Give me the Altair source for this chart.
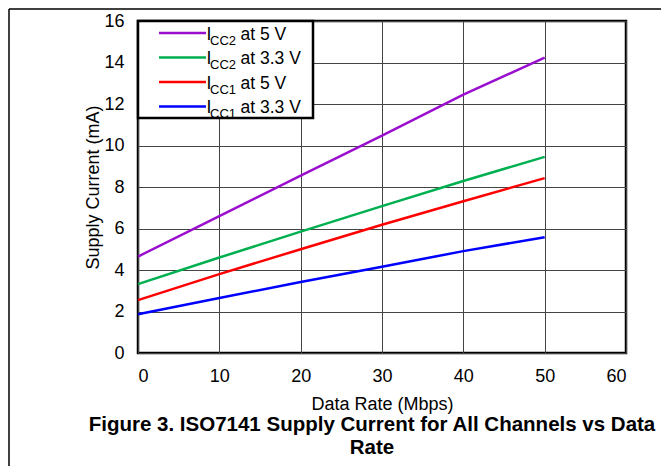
import altair as alt
import pandas as pd

# ---- data ----
data_rate = [0, 10, 20, 30, 40, 50]
icc2_5v = [4.65, 6.6, 8.55, 10.48, 12.45, 14.24]
icc2_33v = [3.32, 4.6, 5.85, 7.08, 8.29, 9.45]
icc1_5v = [2.55, 3.8, 5.0, 6.18, 7.31, 8.43]
icc1_33v = [1.87, 2.65, 3.42, 4.16, 4.91, 5.58]

series_names = ["ICC2 at 5 V", "ICC2 at 3.3 V", "ICC1 at 5 V", "ICC1 at 3.3 V"]
series_vals = [icc2_5v, icc2_33v, icc1_5v, icc1_33v]
series_colors = ["#9A0ECF", "#00B050", "#FF0000", "#0000FF"]
legend_sub = ["CC2", "CC2", "CC1", "CC1"]
legend_rest = ["at 5 V", "at 3.3 V", "at 5 V", "at 3.3 V"]

x_ticks = [0, 10, 20, 30, 40, 50, 60]
y_ticks = [0, 2, 4, 6, 8, 10, 12, 14, 16]

title_lines = ["Figure 3. ISO7141 Supply Current for All Channels vs Data", "Rate"]

rows = []
for name, vals in zip(series_names, series_vals):
    for xv, yv in zip(data_rate, vals):
        rows.append({"series": name, "rate": xv, "current": yv})
df = pd.DataFrame(rows)

FONT = "Liberation Sans"
W, H = 488, 332

lines = alt.Chart(df).mark_line(strokeWidth=2.5).encode(
    x=alt.X("rate:Q", scale=alt.Scale(domain=[0, 60]),
            axis=alt.Axis(values=x_ticks, title="Data Rate (Mbps)", grid=True,
                          ticks=False, domain=False, labelPadding=14,
                          titlePadding=10)),
    y=alt.Y("current:Q", scale=alt.Scale(domain=[0, 16]),
            axis=alt.Axis(values=y_ticks, title="Supply Current (mA)", grid=True,
                          ticks=False, domain=False, labelPadding=14,
                          titlePadding=1)),
    color=alt.Color("series:N", scale=alt.Scale(domain=series_names, range=series_colors),
                    legend=None),
)

layers = [lines]

# legend box
layers.append(alt.Chart(pd.DataFrame({"a": [0]})).mark_rect(
    fill="white", stroke="black", strokeWidth=2.5).encode(
    x=alt.value(0), x2=alt.value(175), y=alt.value(0), y2=alt.value(97)))

row_y = [12, 36.5, 61, 85.5]
for i in range(4):
    ly = row_y[i]
    layers.append(alt.Chart(pd.DataFrame({"a": [0]})).mark_rule(
        color=series_colors[i], strokeWidth=2.5).encode(
        x=alt.value(21), x2=alt.value(68), y=alt.value(ly)))
    layers.append(alt.Chart(pd.DataFrame({"t": ["I"]})).mark_text(
        font=FONT, fontSize=17.5, align="left", baseline="alphabetic", color="black").encode(
        x=alt.value(68.5), y=alt.value(ly + 6.6), text="t:N"))
    layers.append(alt.Chart(pd.DataFrame({"t": [legend_sub[i]]})).mark_text(
        font=FONT, fontSize=13, align="left", baseline="alphabetic", color="black").encode(
        x=alt.value(72), y=alt.value(ly + 11.6), text="t:N"))
    layers.append(alt.Chart(pd.DataFrame({"t": [legend_rest[i]]})).mark_text(
        font=FONT, fontSize=17.5, align="left", baseline="alphabetic", color="black").encode(
        x=alt.value(102.5), y=alt.value(ly + 6.6), text="t:N"))

# figure caption
cap_y = [404, 427]
for i, line in enumerate(title_lines):
    layers.append(alt.Chart(pd.DataFrame({"t": [line]})).mark_text(
        font=FONT, fontSize=20.5, fontWeight="bold", align="center", baseline="middle",
        color="black").encode(x=alt.value(234), y=alt.value(cap_y[i]), text="t:N"))

# page frame lines (top and left)
layers.append(alt.Chart(pd.DataFrame({"a": [0]})).mark_rule(color="black", strokeWidth=1.5).encode(
    x=alt.value(-129), x2=alt.value(530), y=alt.value(-12)))
layers.append(alt.Chart(pd.DataFrame({"a": [0]})).mark_rule(color="black", strokeWidth=1.5).encode(
    x=alt.value(-129), y=alt.value(-12), y2=alt.value(460)))

chart = alt.layer(*layers).properties(
    width=W, height=H,
    autosize=alt.AutoSizeParams(type="none"),
    padding={"left": 130, "top": 13, "right": 35, "bottom": 113},
    background="white",
).configure_view(
    stroke="black", strokeWidth=2.5
).configure_axis(
    labelFont=FONT, labelFontSize=18, labelColor="black",
    titleFont=FONT, titleFontSize=18, titleColor="black", titleFontWeight="normal",
    gridColor="#444444", gridWidth=1, gridOpacity=1,
)

chart.save("out.html", embed_options={"renderer": "svg", "actions": False})
